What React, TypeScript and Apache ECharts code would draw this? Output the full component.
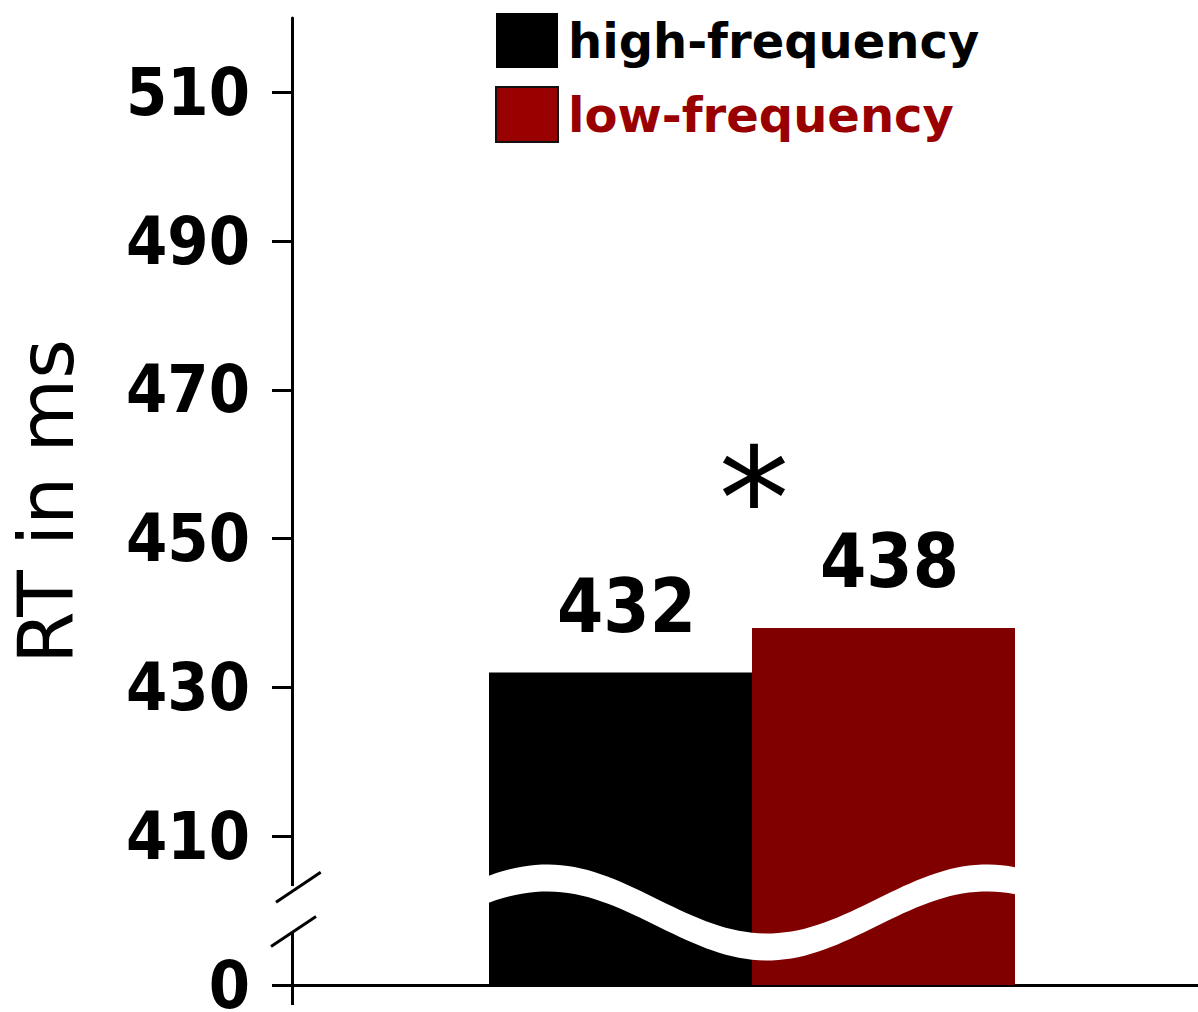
import React, { useEffect, useRef } from "react";
import * as echarts from "echarts";

const categories = ["RT"];
const seriesNames = ["high-frequency", "low-frequency"];
const highFrequency = [432];
const lowFrequency = [438];
const tickValues = [0, 410, 430, 450, 470, 490, 510];
const breakBase = 390; // values above the axis break are drawn as (value - breakBase)
const significanceMark = "*";
const axisTitle = "RT in ms";

const toDisplay = (v: number) => (v === 0 ? 0 : v - breakBase);

export default function App() {
  const ref = useRef<HTMLDivElement>(null);

  useEffect(() => {
    const el = ref.current!;
    const chart = echarts.init(el, null, { renderer: "svg" });
    const tickDisplay = tickValues.map(toDisplay);
    const condensed = "'DejaVu Sans Condensed', 'DejaVu Sans', sans-serif";
    const barWidth = 263;

    chart.setOption({
      animation: false,
      grid: {
        left: 292,
        right: -14,
        top: 18,
        bottom: 27,
        containLabel: false,
        outerBoundsMode: "none",
      },
      legend: {
        orient: "vertical",
        left: 495,
        top: 13,
        padding: 0,
        itemWidth: 62,
        itemHeight: 55,
        itemGap: 18,
        icon: "rect",
        selectedMode: false,
        textStyle: {
          fontFamily: "'DejaVu Sans', sans-serif",
          fontWeight: "bold",
          fontSize: 48,
          padding: [0, 0, 0, 5],
        },
        data: [
          { name: seriesNames[0], itemStyle: { color: "#000000" }, textStyle: { color: "#000000" } },
          {
            name: seriesNames[1],
            itemStyle: { color: "#990000", borderColor: "#111111", borderWidth: 2 },
            textStyle: { color: "#990000" },
          },
        ],
      },
      xAxis: {
        type: "category",
        data: categories,
        boundaryGap: true,
        axisLine: { show: true, lineStyle: { color: "#000", width: 3 } },
        axisTick: { show: true, length: 20, lineStyle: { color: "#000", width: 3 } },
        axisLabel: { show: false },
        splitLine: { show: false },
      },
      yAxis: {
        type: "value",
        min: 0,
        max: 130,
        name: axisTitle,
        nameLocation: "middle",
        nameGap: 208,
        nameTextStyle: { fontFamily: "'DejaVu Sans', sans-serif", fontSize: 76, color: "#000" },
        axisLine: { show: true, lineStyle: { color: "#000", width: 3 } },
        axisTick: {
          show: true,
          length: 20,
          customValues: tickDisplay,
          lineStyle: { color: "#000", width: 3 },
        },
        axisLabel: {
          show: true,
          customValues: tickDisplay,
          margin: 42,
          fontFamily: condensed,
          fontWeight: "bold",
          fontSize: 66,
          lineHeight: 46,
          color: "#000",
          formatter: (v: number) => {
            const i = tickDisplay.indexOf(v);
            return i >= 0 ? String(tickValues[i]) : "";
          },
        },
        splitLine: { show: false },
      },
      series: [
        {
          name: seriesNames[0],
          type: "bar",
          data: highFrequency.map(toDisplay),
          barWidth,
          barGap: "0%",
          itemStyle: { color: "#000000" },
          label: {
            show: true,
            position: "top",
            distance: 30,
            offset: [6, 0],
            fontFamily: condensed,
            fontWeight: "bold",
            fontSize: 74,
            color: "#000",
            formatter: (p: any) => String(highFrequency[p.dataIndex]),
          },
        },
        {
          name: seriesNames[1],
          type: "bar",
          data: lowFrequency.map(toDisplay),
          barWidth,
          barGap: "0%",
          itemStyle: { color: "#800000" },
          label: {
            show: true,
            position: "top",
            distance: 30,
            offset: [6, 0],
            fontFamily: condensed,
            fontWeight: "bold",
            fontSize: 74,
            color: "#000",
            formatter: (p: any) => String(lowFrequency[p.dataIndex]),
          },
        },
      ],
    });

    // decorations computed from the axes
    const py = (v: number) => chart.convertToPixel({ yAxisIndex: 0 }, v) as number;
    const cx = chart.convertToPixel({ xAxisIndex: 0 }, categories[0]) as number;
    const rect = (chart as any).getModel().getComponent("grid").coordinateSystem.getRect();
    const axisX = rect.x;
    const barLeft = cx - barWidth;
    const barRight = cx + barWidth;

    // white wave band over the bars (axis break)
    const waveMid = 9.75;
    const waveAmp = 4.64;
    const peakX = barLeft + 58;
    const period = 440;
    const half = 13.5;
    const topPts: number[][] = [];
    const botPts: number[][] = [];
    const n = 80;
    for (let i = 0; i <= n; i++) {
      const x = barLeft + ((barRight - barLeft) * i) / n;
      const y = py(waveMid + waveAmp * Math.cos((2 * Math.PI * (x - peakX)) / period));
      topPts.push([x, y - half]);
      botPts.push([x, y + half]);
    }
    const band = topPts.concat(botPts.reverse());

    const yGapTop = py(13.31);
    const yGapBot = py(7.03);

    chart.setOption({
      graphic: [
        {
          type: "polygon",
          z: 100,
          shape: { points: band },
          style: { fill: "#ffffff", stroke: null },
        },
        {
          type: "rect",
          z: 100,
          shape: { x: axisX - 4, y: yGapTop, width: 8, height: yGapBot - yGapTop },
          style: { fill: "#ffffff" },
        },
        {
          type: "line",
          z: 101,
          shape: { x1: axisX - 16, y1: py(11.12), x2: axisX + 28.7, y2: py(15.15) },
          style: { stroke: "#000", lineWidth: 3 },
        },
        {
          type: "line",
          z: 101,
          shape: { x1: axisX - 21, y1: py(5.17), x2: axisX + 24, y2: py(9.2) },
          style: { stroke: "#000", lineWidth: 3 },
        },
        {
          type: "text",
          z: 101,
          x: cx + 2,
          y: py(65.3),
          style: {
            text: significanceMark,
            fontFamily: "'DejaVu Sans', sans-serif",
            fontSize: 141,
            fill: "#000",
            textAlign: "center",
            textVerticalAlign: "middle",
          },
        },
      ],
    });

    return () => chart.dispose();
  }, []);

  return (
    <div
      ref={ref}
      style={{ position: "absolute", left: 0, top: 0, width: 1198, height: 1012, background: "#fff" }}
    />
  );
}
